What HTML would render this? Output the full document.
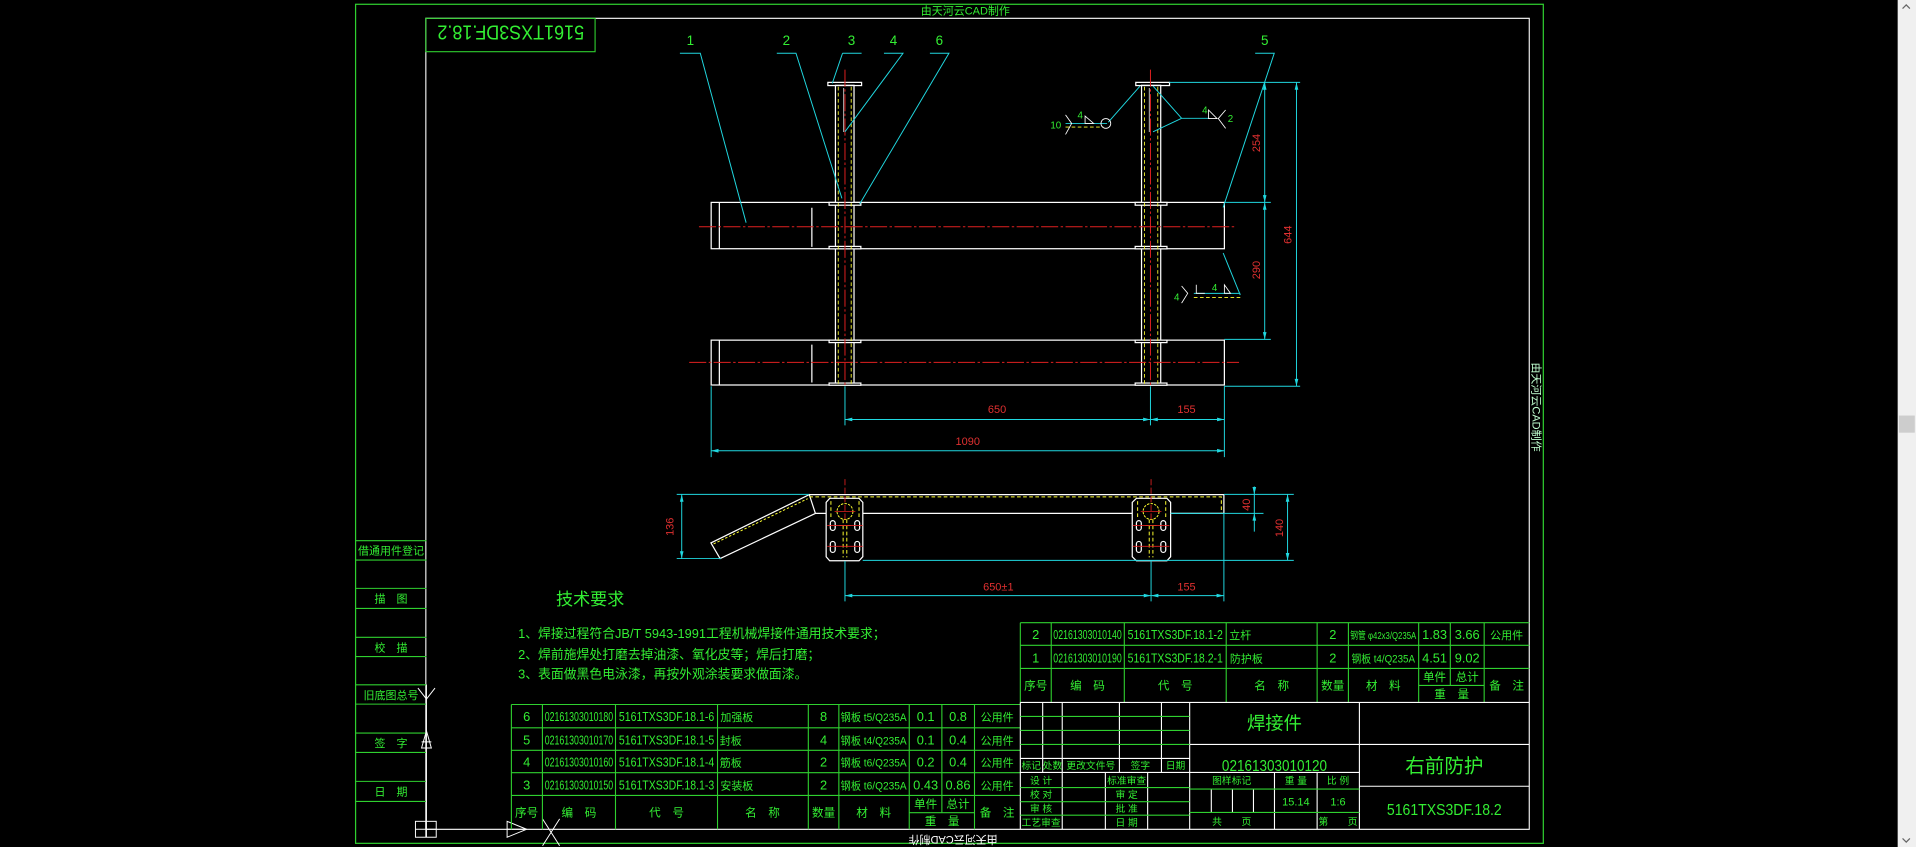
<!DOCTYPE html>
<html><head><meta charset="utf-8"><style>
html,body{margin:0;padding:0;background:#000;width:1916px;height:847px;overflow:hidden}
svg{display:block}
text{font-family:"Liberation Sans","Noto Sans CJK SC",sans-serif}
.g{fill:#33ee33}.w{fill:#fff}.r{fill:#e03030}
</style></head><body>
<svg width="1916" height="847" viewBox="0 0 1568 693" preserveAspectRatio="none" xmlns="http://www.w3.org/2000/svg">
<rect width="1568" height="693" fill="#000"/>
<rect x="1553" y="0" width="15" height="693" fill="#f0f0f0"/>
<rect x="1554" y="340" width="13" height="14" fill="#cdcdcd"/>
<path d="M1557 7 L1560 4 L1563 7 M1557 686 L1560 689 L1563 686" stroke="#666" fill="none" stroke-width="1"/>

<rect x="291" y="3.5" width="972" height="686.5" fill="none" stroke="#2fd02f" stroke-width="1"/>
<path d="M348.5 15 H1251.5 V678.5 H348.5 Z" fill="none" stroke="#fff" stroke-width="0.9"/>
<text x="790" y="12" font-size="9" class="g" text-anchor="middle">由天河云CAD制作</text>
<text transform="translate(780,684) rotate(180)" font-size="9" class="w" text-anchor="middle">由天河云CAD制作</text>
<text transform="translate(1254,333) rotate(90)" font-size="9" fill="#bfffcf" text-anchor="middle">由天河云CAD制作</text>
<rect x="348.5" y="15" width="138.5" height="27.3" fill="none" stroke="#2fd02f" stroke-width="0.9"/>
<text transform="translate(418,21) rotate(180)" font-size="17" class="g" text-anchor="middle" textLength="120" lengthAdjust="spacingAndGlyphs">5161TXS3DF.18.2</text>

<g stroke="#2fd02f" stroke-width="0.9" fill="none">
<path d="M291 442.4H349 M291 458.2H349 M291 481.4H349 M291 497.8H349 M291 521.4H349 M291 537.2H349 M291 560.3H349 M291 576.1H349 M291 599.8H349 M291 615.6H349 M291 639.3H349 M291 655.7H349"/>
</g>
<g font-size="9" class="g" text-anchor="middle">
<text x="320" y="453.5">借通用件登记</text>
<text x="320" y="493">描　图</text>
<text x="320" y="533">校　描</text>
<text x="320" y="572">旧底图总号</text>
<text x="320" y="611">签　字</text>
<text x="320" y="651">日　期</text>
</g>
<g stroke="#fff" stroke-width="0.8" fill="none">
<path d="M349 560 L349 685"/>
<path d="M342 563 L349 572 L356 563"/>
<path d="M349 598 L345 612 L353 612 Z M345 607 H353"/>
<rect x="340" y="672" width="17" height="13"/>
<path d="M340 678.5 H357 M348.5 672 V685"/>
<path d="M415 672 L431 678.5 L415 685 Z M415 678.5 H431"/>
<path d="M444 670 L458 692 M458 670 L444 692"/>
</g>

<text x="483" y="495" font-size="14" class="g" text-anchor="middle">技术要求</text>
<g font-size="10.5" class="g">
<text x="424" y="522">1、焊接过程符合JB/T 5943-1991工程机械焊接件通用技术要求；</text>
<text x="424" y="539">2、焊前施焊处打磨去掉油漆、氧化皮等；焊后打磨；</text>
<text x="424" y="555">3、表面做黑色电泳漆，再按外观涂装要求做面漆。</text>
</g>

<g stroke="#2fd02f" stroke-width="0.9" fill="none">
<path d="M418.5 576.4H835 M418.5 595.5H835 M418.5 613.9H835 M418.5 632.2H835 M418.5 650.8H835 M744.1 664.9H797.5"/>
<path d="M418.5 576.4V678.5 M443.9 576.4V678.5 M503.7 576.4V678.5 M587.2 576.4V678.5 M661.5 576.4V678.5 M686.5 576.4V678.5 M744.1 576.4V678.5 M770.8 576.4V664.9 M797.5 576.4V678.5"/>
</g>
<g font-size="10.5" class="g" text-anchor="middle">
<text x="431" y="590">6</text><text x="473.8" y="590" textLength="56" lengthAdjust="spacingAndGlyphs">02161303010180</text><text x="545.5" y="590" textLength="78" lengthAdjust="spacingAndGlyphs">5161TXS3DF.18.1-6</text><text x="603" y="590" font-size="9">加强板</text><text x="674" y="590">8</text><text x="715" y="590" font-size="9" textLength="54" lengthAdjust="spacingAndGlyphs">钢板 t5/Q235A</text><text x="757.5" y="590">0.1</text><text x="784" y="590">0.8</text><text x="816" y="590" font-size="9">公用件</text>
<text x="431" y="609">5</text><text x="473.8" y="609" textLength="56" lengthAdjust="spacingAndGlyphs">02161303010170</text><text x="545.5" y="609" textLength="78" lengthAdjust="spacingAndGlyphs">5161TXS3DF.18.1-5</text><text x="598" y="609" font-size="9">封板</text><text x="674" y="609">4</text><text x="715" y="609" font-size="9" textLength="54" lengthAdjust="spacingAndGlyphs">钢板 t4/Q235A</text><text x="757.5" y="609">0.1</text><text x="784" y="609">0.4</text><text x="816" y="609" font-size="9">公用件</text>
<text x="431" y="627">4</text><text x="473.8" y="627" textLength="56" lengthAdjust="spacingAndGlyphs">02161303010160</text><text x="545.5" y="627" textLength="78" lengthAdjust="spacingAndGlyphs">5161TXS3DF.18.1-4</text><text x="598" y="627" font-size="9">筋板</text><text x="674" y="627">2</text><text x="715" y="627" font-size="9" textLength="54" lengthAdjust="spacingAndGlyphs">钢板 t6/Q235A</text><text x="757.5" y="627">0.2</text><text x="784" y="627">0.4</text><text x="816" y="627" font-size="9">公用件</text>
<text x="431" y="646">3</text><text x="473.8" y="646" textLength="56" lengthAdjust="spacingAndGlyphs">02161303010150</text><text x="545.5" y="646" textLength="78" lengthAdjust="spacingAndGlyphs">5161TXS3DF.18.1-3</text><text x="603" y="646" font-size="9">安装板</text><text x="674" y="646">2</text><text x="715" y="646" font-size="9" textLength="54" lengthAdjust="spacingAndGlyphs">钢板 t6/Q235A</text><text x="757.5" y="646">0.43</text><text x="784" y="646">0.86</text><text x="816" y="646" font-size="9">公用件</text>
<g font-size="9.5"><text x="431" y="668">序号</text><text x="473.8" y="668">编　码</text><text x="545.5" y="668">代　号</text><text x="624" y="668">名　称</text><text x="674" y="668">数量</text><text x="715" y="668">材　料</text><text x="757.5" y="661">单件</text><text x="784" y="661">总计</text><text x="771" y="675">重　量</text><text x="816" y="668">备　注</text></g>
</g>

<g stroke="#2fd02f" stroke-width="0.9" fill="none">
<path d="M835 509.5H1251.5 M835 528H1251.5 M835 546.9H1251.5 M1161 560.8H1214.6"/>
<path d="M835 509.5V574.7 M860.3 509.5V574.7 M920.1 509.5V574.7 M1003.5 509.5V574.7 M1077.9 509.5V574.7 M1103.5 509.5V574.7 M1161 509.5V574.7 M1186.9 509.5V560.8 M1214.6 509.5V574.7"/>
</g>
<g font-size="10.5" class="g" text-anchor="middle">
<text x="847.6" y="523">2</text><text x="890" y="523" textLength="56" lengthAdjust="spacingAndGlyphs">02161303010140</text><text x="961.8" y="523" textLength="78" lengthAdjust="spacingAndGlyphs">5161TXS3DF.18.1-2</text><text x="1015" y="523" font-size="9">立杆</text><text x="1090.7" y="523">2</text><text x="1132" y="523" font-size="8.5" textLength="54" lengthAdjust="spacingAndGlyphs">钢管 φ42x3/Q235A</text><text x="1174" y="523">1.83</text><text x="1200.7" y="523">3.66</text><text x="1233" y="523" font-size="9">公用件</text>
<text x="847.6" y="542">1</text><text x="890" y="542" textLength="56" lengthAdjust="spacingAndGlyphs">02161303010190</text><text x="961.8" y="542" textLength="78" lengthAdjust="spacingAndGlyphs">5161TXS3DF.18.2-1</text><text x="1020" y="542" font-size="9">防护板</text><text x="1090.7" y="542">2</text><text x="1132" y="542" font-size="9" textLength="52" lengthAdjust="spacingAndGlyphs">钢板 t4/Q235A</text><text x="1174" y="542">4.51</text><text x="1200.7" y="542">9.02</text>
<g font-size="9.5"><text x="847.6" y="564">序号</text><text x="890" y="564">编　码</text><text x="961.8" y="564">代　号</text><text x="1040.7" y="564">名　称</text><text x="1090.7" y="564">数量</text><text x="1132" y="564">材　料</text><text x="1174" y="557">单件</text><text x="1200.7" y="557">总计</text><text x="1188" y="571">重　量</text><text x="1233" y="564">备　注</text></g>
</g>

<g stroke="#fff" stroke-width="0.9" fill="none">
<path d="M835 574.7H1251.5 M835 574.7V678.5 M973.6 574.7V678.5 M1112.5 574.7V678.5 M973.6 609.1H1251.5 M1112.5 643.3H1251.5 M973.6 632H1112.5 M835 620.5H973.6 M835 632H973.6"/>
<path d="M853.3 574.7V632 M869.3 574.7V678.5 M916.1 574.7V632 M950.5 574.7V632 M904.6 632V678.5 M939.2 632V678.5 M1043 632V678.5 M1077.9 632V678.5 M991.3 645.6V664.7 M1008.6 645.6V664.7 M1025.8 645.6V664.7"/>
</g>
<g stroke="#2fd02f" stroke-width="0.9" fill="none">
<path d="M835 586.2H973.6 M835 597.6H973.6 M835 609.1H973.6 M835 644.4H973.6 M835 655.9H973.6 M835 667H973.6 M973.6 645.6H1112.5 M973.6 664.7H1112.5"/>
</g>
<g class="g" text-anchor="middle" font-size="8">
<text x="844" y="629">标记</text><text x="861.3" y="629">处数</text><text x="892.7" y="629">更改文件号</text><text x="933.3" y="629">签字</text><text x="962" y="629">日期</text>
<text x="852" y="641.5">设 计</text><text x="922" y="641.5">标准审查</text>
<text x="852" y="653">校 对</text><text x="922" y="653">审 定</text>
<text x="852" y="664.5">审 核</text><text x="922" y="664.5">批 准</text>
<text x="852" y="676">工艺审查</text><text x="922" y="676">日 期</text>
<text x="1008" y="641.5">图样标记</text><text x="1060.5" y="641.5">重 量</text><text x="1095" y="641.5">比 例</text>
<text x="1060.5" y="659" font-size="9">15.14</text><text x="1095" y="659" font-size="9">1:6</text>
<text x="1008" y="675">共　　页</text><text x="1095" y="675">第　　页</text>
</g>
<g class="g" text-anchor="middle">
<text x="1043" y="597" font-size="15">焊接件</text>
<text x="1043" y="631" font-size="13" textLength="86" lengthAdjust="spacingAndGlyphs">02161303010120</text>
<text x="1182" y="632" font-size="16">右前防护</text>
<text x="1182" y="667" font-size="13" textLength="94" lengthAdjust="spacingAndGlyphs">5161TXS3DF.18.2</text>
</g>

<g stroke="#fff" stroke-width="1" fill="none">
<rect x="582" y="165.6" width="420" height="37.9"/>
<path d="M588.7 165.6V203.5 M664.4 170V202"/>
<rect x="582" y="278.3" width="420" height="36.7"/>
<path d="M588.7 278.3V315 M664.4 282V313"/>
<rect x="683.7" y="69.8" width="15.2" height="245.2" fill="#000"/>
<rect x="934.2" y="69.8" width="15.7" height="245.2" fill="#000"/>
<rect x="677.5" y="67.4" width="27.6" height="2.6"/>
<rect x="929.5" y="67.4" width="27.6" height="2.6"/>
<rect x="678.5" y="165.6" width="26" height="2.3" fill="#000"/><rect x="678.5" y="201.6" width="26" height="2" fill="#000"/>
<rect x="678.5" y="278.3" width="26" height="2" fill="#000"/><rect x="678.5" y="313.4" width="26" height="1.8" fill="#000"/>
<rect x="929" y="165.6" width="26" height="2.3" fill="#000"/><rect x="929" y="201.6" width="26" height="2" fill="#000"/>
<rect x="929" y="278.3" width="26" height="2" fill="#000"/><rect x="929" y="313.4" width="26" height="1.8" fill="#000"/>
<path d="M690.5 72V108 M940.5 72V108" stroke-width="0.6"/>
</g>
<g stroke="#ffff30" stroke-width="0.7" stroke-dasharray="3 2" fill="none">
<path d="M686 71V314 M696.6 71V314 M936.6 71V314 M947.5 71V314"/>
</g>
<g stroke="#e02020" stroke-width="0.8" stroke-dasharray="14 2 2 2" fill="none">
<path d="M691.5 57V318 M941.5 57V318 M572 185.5H1010 M564 296.5H1014"/>
</g>

<g stroke="#20d8e0" stroke-width="0.8" fill="none">
<path d="M556.4 43.6H573.1 L610.6 182.2"/>
<path d="M635.7 43.6H651.4 L689 162.3"/>
<path d="M689.5 43.6H705.1 M689.5 43.6 L681.1 68.2"/>
<path d="M723.4 43.6H739 L691.5 107.8"/>
<path d="M761 43.6H776.6 L703.5 167"/>
<path d="M1027.2 43.6H1042.8 L1001 169.7"/>
<path d="M907 100 L933 70.4"/>
<path d="M967 96.8 L943.6 70.4 M967 96.8 L943.6 107.8"/>
<path d="M1001 207 L1015 241.4"/>
<path d="M872 101H906 M967 96.8H990 M977 240H1015"/>
</g>
<g stroke="#ffff30" stroke-width="0.7" stroke-dasharray="3 2"><path d="M872 104H903 M977 243.5H1015"/></g>
<g stroke="#fff" stroke-width="0.7" fill="none">
<path d="M872 94L877 101L872 110 M1003 90L997 97L1003 105 M967 234L972 240L967 248"/>
<path d="M888 95V101H895Z M989 90V97H996Z M1002 233V240H1007Z"/>
<circle cx="905" cy="101" r="4"/>
<path d="M979 233V240H986"/>
</g>
<g class="g" font-size="8" text-anchor="middle">
<text x="864" y="105">10</text><text x="884" y="97">4</text><text x="986" y="93">4</text><text x="1007" y="100">2</text><text x="963" y="246">4</text><text x="994" y="238">4</text>
</g>
<g class="g" font-size="11" text-anchor="middle">
<text x="565" y="37">1</text><text x="643.5" y="37">2</text><text x="696.8" y="37">3</text><text x="731.2" y="37">4</text><text x="768.8" y="37">6</text><text x="1035" y="37">5</text>
</g>

<g stroke="#20d8e0" stroke-width="0.8" fill="none">
<path d="M957 67.4H1064 M1002 165.6H1040 M1002 277.7H1040 M1002 316H1064"/>
<path d="M1035 67.4V277.7 M1061 67.4V316"/>
<path d="M691.5 316V348 M941.5 316V348 M582 316V374 M1002 316V374"/>
<path d="M691.5 343.2H1002 M582 368.8H1002"/>
</g>
<g fill="#20d8e0">
<path d="M1035 67.4l-1.5 6h3z M1035 165.6l-1.5-6h3z M1035 165.6l-1.5 6h3z M1035 277.7l-1.5-6h3z M1061 67.4l-1.5 6h3z M1061 316l-1.5-6h3z"/>
<path d="M691.5 343.2l6-1.5v3z M941.5 343.2l-6-1.5v3z M941.5 343.2l6-1.5v3z M1002 343.2l-6-1.5v3z M582 368.8l6-1.5v3z M1002 368.8l-6-1.5v3z"/>
</g>
<g class="r" font-size="9" text-anchor="middle">
<text transform="translate(1031,117) rotate(-90)">254</text>
<text transform="translate(1031,221) rotate(-90)">290</text>
<text transform="translate(1057,192) rotate(-90)">644</text>
<text x="816" y="338">650</text><text x="971" y="338">155</text><text x="792" y="364">1090</text>
</g>

<g stroke="#fff" stroke-width="1" fill="none">
<path d="M662.3 404.7H1001.6V420 M706 420H926.6 M958 420H1001.6 M667 420H676"/>
<path d="M662.3 404.7 L667.3 420.1 L589.3 457 L581.8 444.2 Z"/>
<path d="M679 407.7H703 L706.1 411V455.5 L703 458.8H679 L676.1 455.5V411Z"/>
<path d="M930 407.7H955 L958 411V455.5 L955 458.8H930 L926.6 455.5V411Z"/>
<rect x="679.5" y="426" width="4" height="8" rx="2"/><rect x="699.5" y="426" width="4" height="8" rx="2"/>
<rect x="679.5" y="443" width="4" height="9" rx="2"/><rect x="699.5" y="443" width="4" height="9" rx="2"/>
<rect x="930" y="426" width="4" height="8" rx="2"/><rect x="950" y="426" width="4" height="8" rx="2"/>
<rect x="930" y="443" width="4" height="9" rx="2"/><rect x="950" y="443" width="4" height="9" rx="2"/>
</g>
<g stroke="#ffff30" stroke-width="0.8" fill="none">
<path d="M662.3 406.5H999.5V420" stroke-dasharray="3 2"/>
<path d="M584 445 L661 408" stroke-dasharray="2 1.5"/>
<circle cx="691.5" cy="418.5" r="6.5" stroke-dasharray="2 1"/><circle cx="942" cy="418.5" r="6.5" stroke-dasharray="2 1"/>
<path d="M680 410V425 M703 410V425 M931 410V425 M954 410V425" stroke-dasharray="3 2"/>
<path d="M690 425V456 M693 425V456 M940.5 425V456 M943.5 425V456" stroke-dasharray="3 2"/>
<path d="M687 430H696 M937.5 430H946.5"/>
</g>
<g stroke="#e02020" stroke-width="0.7" fill="none">
<path d="M691.5 392V425 M942 392V425" stroke-dasharray="5 2"/>
<path d="M683 418.5H700 M933.5 418.5H950.5 M677 430H706 M677 447H706 M927 430H957 M927 447H957"/>
</g>
<g stroke="#20d8e0" stroke-width="0.8" fill="none">
<path d="M553.8 404.5H662 M553.8 457H590 M557.9 404.5V457"/>
<path d="M1001.6 404.5H1058.8 M958 420H1034 M706 458.5H1058.8 M1026.5 398V435 M1053.7 404.5V458.5"/>
<path d="M691.5 459V492 M942 459V492 M1001.6 420V492 M691.5 487.3H1001.6"/>
</g>
<g fill="#20d8e0">
<path d="M557.9 404.5l-1.5 6h3z M557.9 457l-1.5-6h3z M1026.5 404.5l-1.5-6h3z M1026.5 420l-1.5 6h3z M1053.7 404.5l-1.5 6h3z M1053.7 458.5l-1.5-6h3z"/>
<path d="M691.5 487.3l6-1.5v3z M942 487.3l-6-1.5v3z M942 487.3l6-1.5v3z M1001.6 487.3l-6-1.5v3z"/>
</g>
<g class="r" font-size="9" text-anchor="middle">
<text transform="translate(551,431) rotate(-90)">136</text>
<text transform="translate(1023,413) rotate(-90)">40</text>
<text transform="translate(1050,432) rotate(-90)">140</text>
<text x="817" y="483">650±1</text><text x="971" y="483">155</text>
</g>
</svg>
</body></html>
